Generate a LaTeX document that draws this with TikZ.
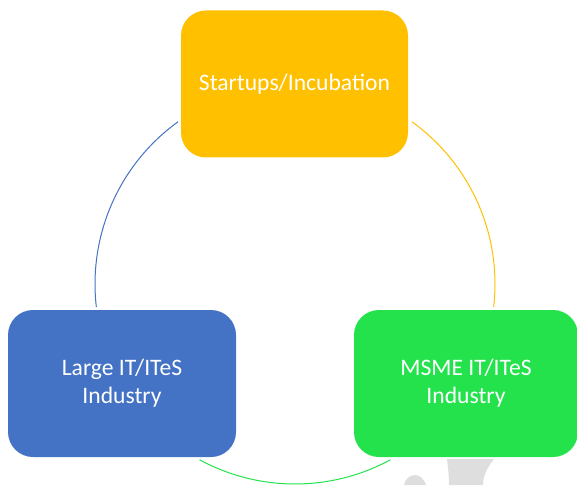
\documentclass[tikz,border=0pt]{standalone}
\usepackage{fontspec}
\setmainfont{Carlito}
\definecolor{orangebox}{HTML}{FFC000}
\definecolor{bluebox}{HTML}{4472C4}
\definecolor{greenbox}{HTML}{23E24C}
\definecolor{wmgray}{HTML}{DEDEDE}
\begin{document}
\begin{tikzpicture}[x=1pt,y=1pt,
  boxstyle/.style={rounded corners=25pt, minimum height=147pt, align=center,
    text=white, inner sep=0pt, font=\fontsize{23.6}{28}\selectfont},
  arcline/.style={line width=1pt}]
\useasboundingbox (0,0) rectangle (577,485);
% faint watermark fragments
\fill[wmgray] (447,26) -- (494,26) .. controls (486,16) and (483,8) .. (483,0) -- (449,0) .. controls (449,8) and (448,18) .. (447,26) -- cycle;
\fill[wmgray] (404,0) .. controls (405,6) and (410,10) .. (415,10) .. controls (420,10) and (424,6) .. (426,0) -- cycle;
\coordinate (c) at (295,201);
\node[boxstyle, fill=orangebox, minimum width=227pt] (top) at (294.5,401) {Startups/Incubation};
\node[boxstyle, fill=bluebox, minimum width=228pt] (left) at (122,101.5) {Large IT/ITeS\\Industry};
\node[boxstyle, fill=greenbox, minimum width=224pt] (right) at (466,101.5) {MSME IT/ITeS\\Industry};
\draw[arcline, bluebox] (c) ++(125.8:200) arc[start angle=125.8, end angle=186.6, radius=200];
\draw[arcline, orangebox] (c) ++(54.2:200) arc[start angle=54.2, end angle=-6.6, radius=200];
\draw[arcline, greenbox] (c) ++(241.5:200) arc[start angle=241.5, end angle=298.5, radius=200];
\end{tikzpicture}
\end{document}
